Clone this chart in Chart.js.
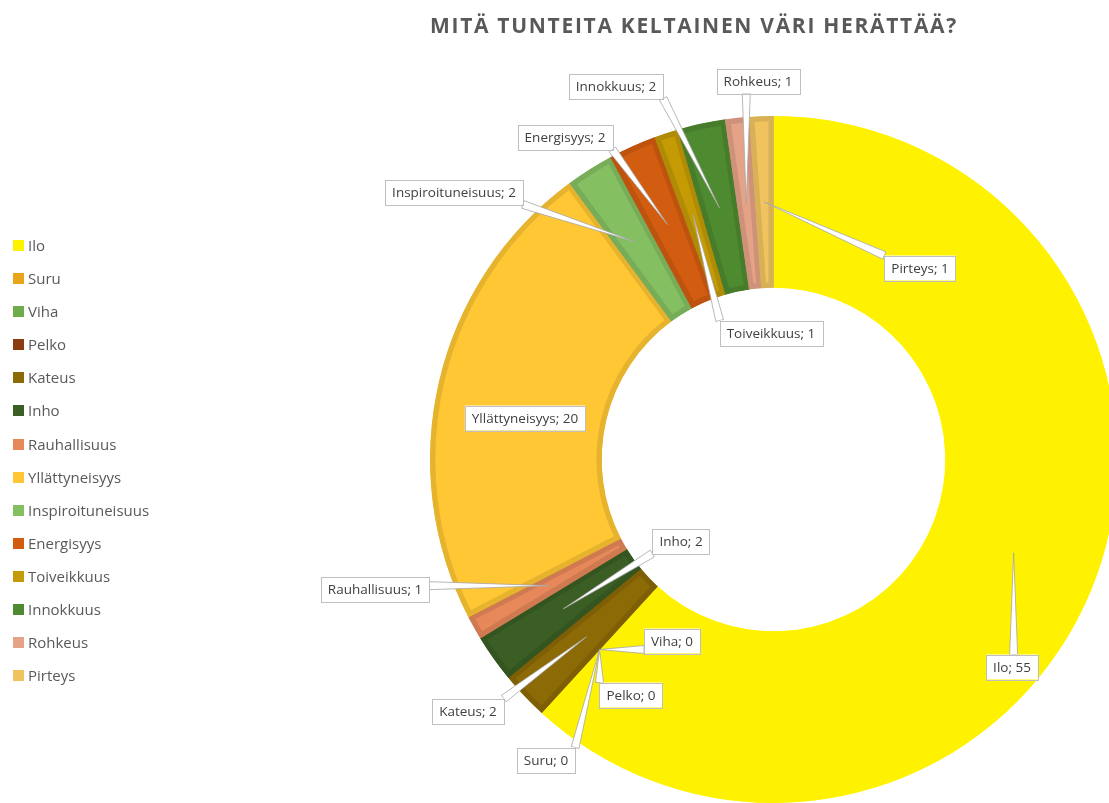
<!DOCTYPE html>
<html>
<head>
<meta charset="utf-8">
<script src="https://cdn.jsdelivr.net/npm/chart.js@4"></script>
<style>
  html, body { margin: 0; padding: 0; background: #fff; overflow: hidden; }
  #wrap { position: relative; width: 1109px; height: 803px; overflow: hidden; font-family: "Open Sans", sans-serif; }
  #chart { position: absolute; left: 0; top: 0; }
  #title { position: absolute; left: 0; width: 1388px; top: 11px; line-height: 28px; text-align: center; font-weight: bold; font-size: 21px; color: #595959; letter-spacing: 1.7px; }
  #legend { position: absolute; left: 13px; top: 235px; font-size: 15px; color: #595959; }
  .item { height: 33.1px; display: flex; align-items: flex-start; line-height: 20px; }
  .sw { width: 11px; height: 11px; margin-top: 5px; margin-right: 4px; }
</style>
</head>
<body>
<div id="wrap">
  <canvas id="chart" width="1130" height="803"></canvas>
  <div id="title">MITÄ TUNTEITA KELTAINEN VÄRI HERÄTTÄÄ?</div>
  <div id="legend"></div>
</div>
<script>
// Data
const labels = ['Ilo', 'Suru', 'Viha', 'Pelko', 'Kateus', 'Inho', 'Rauhallisuus', 'Yllättyneisyys',
                'Inspiroituneisuus', 'Energisyys', 'Toiveikkuus', 'Innokkuus', 'Rohkeus', 'Pirteys'];
const values = [55, 0, 0, 0, 2, 2, 1, 20, 2, 2, 1, 2, 1, 1];
const colors = ['#FFF200', '#E8A51C', '#6FAB4B', '#8A3B10', '#8C6A06', '#3A5E24', '#E6885A', '#FFC733',
                '#84BF62', '#D25C0F', '#C49A05', '#4E8A2F', '#E4A286', '#F0C35E'];

// label box centres (layout only)
const labelPos = [[1012, 667], [546, 760], [672, 641], [631, 695], [468, 711], [681, 541], [375, 589],
                  [525, 418], [454, 192], [565, 137], [771, 333], [616, 86], [758, 81], [920, 268]];

function shade(hex, f) {
  const n = parseInt(hex.slice(1), 16);
  const r = Math.round(((n >> 16) & 255) * f), g = Math.round(((n >> 8) & 255) * f), b = Math.round((n & 255) * f);
  return `rgb(${r},${g},${b})`;
}

// HTML legend
const leg = document.getElementById('legend');
leg.innerHTML = labels.map((l, i) => `<div class="item"><div class="sw" style="background:${colors[i]}"></div><span>${l}</span></div>`).join('');

const callouts = {
  id: 'callouts',
  afterDatasetsDraw(chart) {
    const ctx = chart.ctx;
    const meta = chart.getDatasetMeta(0);
    ctx.save();
    ctx.font = '13.5px "Open Sans"';
    ctx.textBaseline = 'middle';
    ctx.textAlign = 'center';
    meta.data.forEach((arc, i) => {
      const p = arc.getProps(['x', 'y', 'startAngle', 'endAngle', 'innerRadius', 'outerRadius'], true);
      const mid = (p.startAngle + p.endAngle) / 2;
      const r = (p.innerRadius + p.outerRadius) / 2;
      const ax = p.x + Math.cos(mid) * r, ay = p.y + Math.sin(mid) * r;
      const text = labels[i] + '; ' + values[i];
      const w = ctx.measureText(text).width + 14, h = 25;
      const [cx, cy] = labelPos[i];
      const bx = cx - w / 2, by = cy - h / 2;
      const qx = Math.min(Math.max(ax, bx), bx + w), qy = Math.min(Math.max(ay, by), by + h);
      const d = Math.hypot(ax - qx, ay - qy);
      if (d > 12) {
        // tapered leader
        const ux = (ax - qx) / d, uy = (ay - qy) / d;
        const nx = -uy * 4, ny = ux * 4;
        ctx.beginPath();
        ctx.moveTo(qx + nx, qy + ny);
        ctx.lineTo(ax, ay);
        ctx.lineTo(qx - nx, qy - ny);
        ctx.closePath();
        ctx.fillStyle = '#ffffff';
        ctx.fill();
        ctx.strokeStyle = '#a6a6a6';
        ctx.lineWidth = 0.8;
        ctx.stroke();
      }
      ctx.fillStyle = '#ffffff';
      ctx.fillRect(bx, by, w, h);
      ctx.strokeStyle = '#bfbfbf';
      ctx.lineWidth = 1;
      ctx.strokeRect(Math.round(bx) + 0.5, Math.round(by) + 0.5, Math.round(w), h);
      ctx.fillStyle = '#404040';
      ctx.fillText(text, cx, cy + 1);
    });
    ctx.restore();
  }
};

new Chart(document.getElementById('chart').getContext('2d'), {
  type: 'doughnut',
  data: {
    labels: labels,
    datasets: [{
      data: values,
      backgroundColor: colors,
      borderColor: colors.map((c, i) => i === 0 ? c : shade(c, 0.9)),
      borderWidth: 5,
      borderAlign: 'inner',
      hoverOffset: 0
    }]
  },
  options: {
    responsive: false,
    animation: false,
    events: [],
    cutout: '50%',
    layout: { padding: { left: 430, right: 13, top: 116, bottom: 0 } },
    plugins: { legend: { display: false }, tooltip: { enabled: false }, title: { display: false } }
  },
  plugins: [callouts]
});
</script>
</body>
</html>
